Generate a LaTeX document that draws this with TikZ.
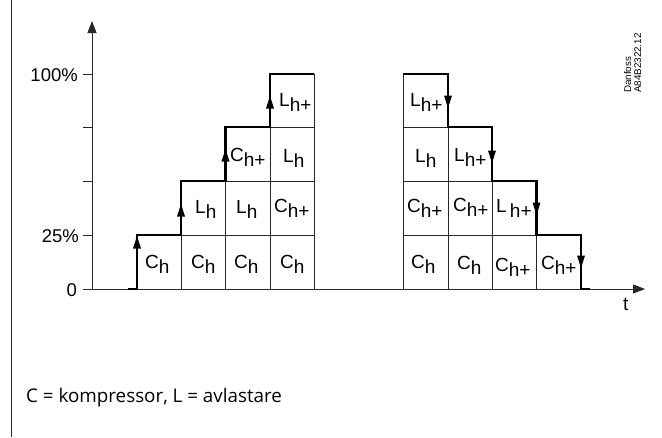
\documentclass[tikz,border=0pt]{standalone}
\usepackage{fontspec}
\setmainfont{Liberation Sans}
\newfontfamily\notefont{Open Sans}
\usetikzlibrary{arrows.meta}
\newcommand{\lh}[2]{#1\raisebox{-5pt}{h#2}}
\tikzset{
  thinl/.style={line width=0.9pt,draw=black!85},
  axisl/.style={line width=1pt,draw=black!85},
  stepl/.style={line width=2.1pt,draw=black,line join=miter},
  tri/.style={fill=black,draw=none},
  lab/.style={anchor=base west,inner sep=0pt,yshift=-1pt,font=\fontsize{19}{19}\selectfont},
  val/.style={anchor=base east,inner sep=0pt,font=\fontsize{18.5}{18.5}\selectfont},
  head/.style={-{Triangle[length=12pt,width=9pt]}}
}
\newcommand{\upt}[2]{\fill[tri] (#1,#2) -- (#1-4,#2+12.5) -- (#1+4,#2+12.5) -- cycle;}
\newcommand{\dnt}[2]{\fill[tri] (#1,#2) -- (#1-4,#2-12.5) -- (#1+4,#2-12.5) -- cycle;}
\begin{document}
\begin{tikzpicture}[x=1pt,y=-1pt]
\useasboundingbox (0,0) rectangle (662,437);
\fill[white] (0,0) rectangle (662,437);
\draw[thinl] (11,0) -- (11,437);
% axes
\coordinate (o) at (92,289);
\coordinate (ytop) at (92,21);
\coordinate (xend) at (645,289);
\draw[axisl,head] (o) -- (ytop);
\draw[axisl,head] (o) -- (xend);
\foreach \y in {74,127,181,235,289} \draw[axisl] (83,\y) -- (92,\y);
% left grid
\draw[thinl] (137,235) -- (314,235);
\draw[thinl] (181,181) -- (314,181);
\draw[thinl] (225,127) -- (314,127);
\draw[thinl] (181,235) -- (181,289);
\draw[thinl] (225,181) -- (225,289);
\draw[thinl] (270,127) -- (270,289);
\draw[thinl] (314,74) -- (314,289);
% right grid
\draw[thinl] (403,127) -- (448,127);
\draw[thinl] (403,181) -- (536,181);
\draw[thinl] (403,235) -- (581,235);
\draw[thinl] (403,74) -- (403,289);
\draw[thinl] (448,127) -- (448,289);
\draw[thinl] (492,181) -- (492,289);
\draw[thinl] (536,235) -- (536,289);
% stepped lines
\draw[stepl] (128,289) -- (137,289) -- (137,235) -- (181,235) -- (181,181) -- (225.5,181) -- (225.5,127) -- (270,127) -- (270,74) -- (314,74);
\draw[stepl] (403,74) -- (448,74) -- (448,127) -- (492,127) -- (492,181) -- (536.5,181) -- (536.5,235) -- (581,235) -- (581,289) -- (590,289);
\upt{137}{236}\upt{181}{204}\upt{225.5}{149}\upt{270}{96}
\dnt{448}{108}\dnt{492}{163}\dnt{536.5}{215}\dnt{581}{268}
% labels
\node[val] (v100) at (78,81) {100\%};
\node[val] (v25) at (79,242) {25\%};
\node[val] (v0) at (77,296) {0};
\node[lab] (t) at (623,309) {t};
\node[lab] (a) at (145,267) {\lh{C}{}};
\node[lab] (b) at (191,267) {\lh{C}{}};
\node[lab] (c) at (234,267) {\lh{C}{}};
\node[lab] (d) at (280,267) {\lh{C}{}};
\node[lab] (e) at (195,212) {\lh{L}{}};
\node[lab] (f) at (236,212) {\lh{L}{}};
\node[lab] (g) at (274,211) {\lh{C}{+}};
\node[lab] (h) at (230,160) {\lh{C}{+}};
\node[lab] (i) at (283,161) {\lh{L}{}};
\node[lab] (j) at (279,105) {\lh{L}{+}};
\node[lab] (k) at (410,105) {\lh{L}{+}};
\node[lab] (l) at (415,161) {\lh{L}{}};
\node[lab] (m) at (454,160) {\lh{L}{+}};
\node[lab] (n) at (407,211) {\lh{C}{+}};
\node[lab] (p) at (453,210) {\lh{C}{+}};
\node[lab] (q) at (496,211) {L\,\lh{}{+}};
\node[lab] (r) at (411,267) {\lh{C}{}};
\node[lab] (s) at (457,268) {\lh{C}{}};
\node[lab] (u) at (495,270) {\lh{C}{+}};
\node[lab] (w) at (541,268) {\lh{C}{+}};
\node[rotate=90,anchor=base west,inner sep=0pt,font=\fontsize{9.8}{9.8}\selectfont] (dan) at (631,93) {Danfoss};
\node[rotate=90,anchor=base west,inner sep=0pt,font=\fontsize{9.8}{9.8}\selectfont] (code) at (641,93) {A84B2322.12};
\node[anchor=base west,inner sep=0pt,font=\notefont\fontsize{18.8}{18.8}\selectfont] (note) at (26,402) {C = kompressor, L = avlastare};
\end{tikzpicture}
\end{document}
